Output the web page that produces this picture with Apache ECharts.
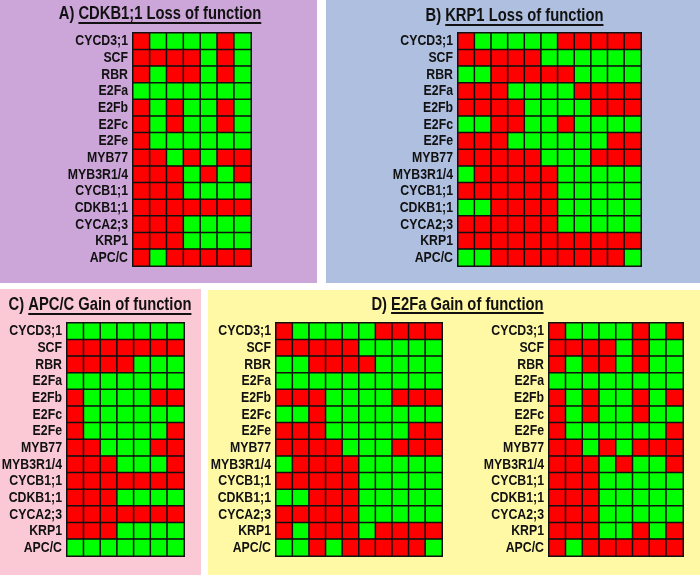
<!DOCTYPE html>
<html><head><meta charset="utf-8">
<script src="https://cdn.jsdelivr.net/npm/echarts@6/dist/echarts.min.js"></script>
<style>html,body{margin:0;padding:0;background:#fff}#c{width:700px;height:575px}</style>
</head><body><div id="c"></div>
<script>
const genes = ["CYCD3;1","SCF","RBR","E2Fa","E2Fb","E2Fc","E2Fe","MYB77","MYB3R1/4","CYCB1;1","CDKB1;1","CYCA2;3","KRP1","APC/C"];
// 1 = red (on), 0 = green (off); one row per gene, one column per state
const panelA = [
 [1,0,0,0,0,1,0],[1,1,1,1,0,1,0],[1,0,1,1,0,1,0],[0,0,0,0,0,0,0],
 [1,0,1,0,0,1,0],[1,0,1,0,0,1,0],[1,0,0,0,0,0,0],[1,1,0,1,0,1,1],
 [1,1,1,0,1,0,1],[1,1,1,0,0,0,0],[1,1,1,1,1,1,1],[1,1,1,0,0,0,0],
 [1,1,1,0,0,0,0],[1,0,1,1,1,1,1]];
const panelB = [
 [1,0,0,0,0,0,1,1,1,1,1],[1,1,1,1,1,0,0,0,0,0,0],[0,0,1,1,1,1,1,0,0,0,0],
 [1,1,1,0,0,0,0,1,1,1,1],[1,1,1,1,0,0,0,0,1,1,1],[0,0,1,1,0,0,1,0,0,0,0],
 [1,1,1,0,0,0,0,0,0,1,1],[1,1,1,1,1,0,0,0,1,1,1],[0,1,1,1,1,1,0,0,0,0,0],
 [1,1,1,1,1,1,0,0,0,0,0],[0,0,1,1,1,1,0,0,0,0,0],[1,1,1,1,1,1,0,0,0,0,0],
 [1,1,1,1,1,1,1,1,1,1,1],[0,0,1,1,1,1,1,1,1,1,0]];
const panelC = [
 [0,0,0,0,0,0,0],[1,1,1,1,1,1,1],[1,1,1,1,0,0,0],[0,0,0,0,0,0,0],
 [1,0,0,0,0,1,1],[1,0,0,0,0,0,0],[1,0,0,0,0,0,1],[1,1,0,0,0,1,1],
 [1,1,1,0,0,0,1],[1,1,1,1,1,1,1],[1,1,1,0,0,0,0],[1,1,1,1,1,1,1],
 [1,1,1,0,0,0,0],[0,0,0,0,0,0,0]];
const panelD1 = [
 [1,0,0,0,0,0,1,1,1,1],[1,1,1,1,1,0,0,0,0,0],[0,0,1,1,1,1,0,0,0,0],
 [0,0,0,0,0,0,0,0,0,0],[1,1,1,0,0,0,0,1,1,1],[0,0,1,0,0,0,0,0,0,0],
 [1,1,1,0,0,0,0,0,1,1],[1,1,1,1,0,0,0,1,1,1],[0,1,1,1,1,0,0,0,0,0],
 [1,1,1,1,1,0,0,0,0,0],[0,0,1,1,1,0,0,0,0,0],[1,1,1,1,1,0,0,0,0,0],
 [1,0,1,1,1,0,1,1,1,1],[0,0,1,0,1,1,1,1,1,0]];
const panelD2 = [
 [1,0,0,0,0,1,0,1],[1,1,1,1,0,1,0,0],[1,0,1,1,0,1,0,0],[0,0,0,0,0,0,0,0],
 [1,0,1,0,0,1,0,1],[1,0,1,0,0,1,0,0],[1,0,0,0,0,0,0,1],[1,1,0,1,0,1,1,1],
 [1,1,1,0,1,0,0,1],[1,1,1,0,0,0,0,0],[1,1,1,0,0,0,0,0],[1,1,1,0,0,0,0,0],
 [1,1,1,0,0,1,0,1],[1,0,1,1,1,1,1,1]];
const titles = [
 {pre:"A) ", main:"CDKB1;1 Loss of function"},
 {pre:"B) ", main:"KRP1 Loss of function"},
 {pre:"C) ", main:"APC/C Gain of function"},
 {pre:"D) ", main:"E2Fa Gain of function"}];

const FONT = '"Liberation Sans Narrow","Liberation Sans",Arial,sans-serif';
const SX = 0.82; // horizontal compression to mimic a narrow typeface
const panels = [panelA, panelB, panelC, panelD1, panelD2];
const grids = [
 {left:133, top:33, width:118, height:233},
 {left:458, top:33, width:183, height:233},
 {left:67,  top:323, width:117, height:233},
 {left:276, top:323, width:166, height:233},
 {left:549, top:323, width:134, height:233}];

const xAxis = [], yAxis = [], series = [];
panels.forEach((m, i) => {
  const cols = m[0].map((_, j) => String(j + 1));
  xAxis.push({type:'category', gridIndex:i, data:cols, show:false});
  yAxis.push({type:'category', gridIndex:i, data:genes, inverse:true,
    axisLine:{show:false}, axisTick:{show:false}, splitLine:{show:false},
    axisLabel:{show:false}});
  const data = [];
  m.forEach((row, r) => row.forEach((v, c) => data.push([c, r, v])));
  series.push({type:'heatmap', xAxisIndex:i, yAxisIndex:i, data:data,
    itemStyle:{borderColor:'#111', borderWidth:1.5}, emphasis:{disabled:true}, animation:false});
});

const bgs = [
 {x:0, y:0, w:317, h:283, c:'#cca6d8'},
 {x:326, y:0, w:374, h:283, c:'#aebfe0'},
 {x:0, y:289, w:201, h:286, c:'#fbc9d6'},
 {x:208, y:290, w:492, h:285, c:'#fff9a6'}];

const chart = echarts.init(document.getElementById('c'), null, {renderer:'canvas'});
chart.setOption({
  animation:false,
  grid: grids,
  xAxis: xAxis, yAxis: yAxis, series: series,
  visualMap:{type:'piecewise', show:false, dimension:2, seriesIndex:[0,1,2,3,4],
    pieces:[{value:0, color:'#00ff00'},{value:1, color:'#ff0000'}]}
});

const graphic = [];
bgs.forEach(b => graphic.push({type:'rect', z:-10, silent:true, shape:{x:b.x, y:b.y, width:b.w, height:b.h}, style:{fill:b.c}}));

// row labels placed with the y axis scale
grids.forEach((g, i) => {
  genes.forEach(gn => {
    const y = chart.convertToPixel({yAxisIndex:i}, gn);
    graphic.push({type:'text', x:g.left - 5, y:y, scaleX:SX, z:10, silent:true,
      style:{text:gn, align:'right', verticalAlign:'middle', fontFamily:FONT, fontWeight:'bold', fontSize:15, fill:'#111'}});
  });
});

// titles with underlined main part
const ctx = document.createElement('canvas').getContext('2d');
ctx.font = 'bold 18px "Liberation Sans", Arial, sans-serif';
const tpos = [{cx:160, y:14, uy:23}, {cx:514.5, y:16, uy:25}, {cx:100, y:305.5, uy:314}, {cx:457.5, y:305, uy:313}];
titles.forEach((t, i) => {
  const wp = ctx.measureText(t.pre).width * SX;
  const wm = ctx.measureText(t.main).width * SX;
  const left = tpos[i].cx - (wp + wm) / 2;
  graphic.push({type:'text', x:left, y:tpos[i].y, scaleX:SX, z:10, silent:true,
    style:{text:t.pre + t.main, align:'left', verticalAlign:'middle', fontFamily:FONT, fontWeight:'bold', fontSize:18, fill:'#111'}});
  graphic.push({type:'line', z:10, silent:true, shape:{x1:left + wp, y1:tpos[i].uy, x2:left + wp + wm, y2:tpos[i].uy}, style:{stroke:'#111', lineWidth:2}});
});
chart.setOption({graphic: graphic});
</script></body></html>
